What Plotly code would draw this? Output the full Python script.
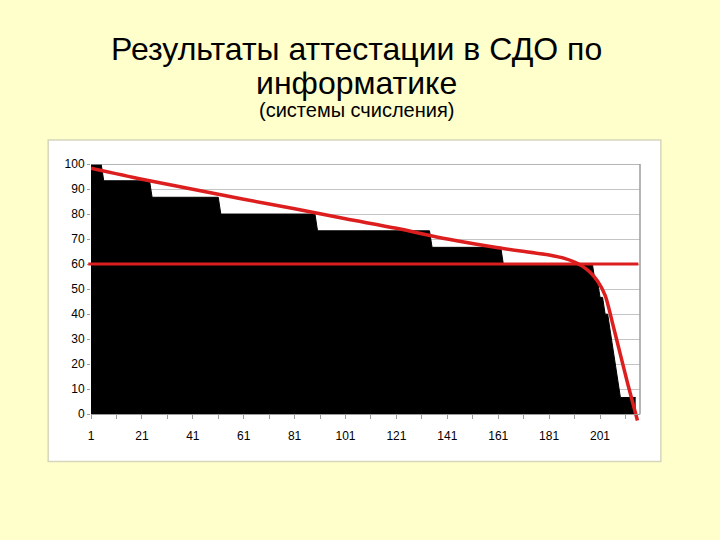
import plotly.graph_objects as go

# scores, as (level, how many students) runs, sorted high to low
score_levels = [100, 93.3, 86.7, 80, 73.3, 66.7, 60, 53.3, 46.7, 40, 33.3, 26.7, 20, 13.3, 6.7]
score_counts = [5, 19, 27, 38, 45, 28, 36, 2, 2, 2, 1, 1, 1, 1, 7]

# red trend curve
trend_x = [1, 21, 41, 61, 81, 101, 121, 141, 161, 181, 187, 191, 194, 197, 200, 203, 206, 209, 212, 215.7]
trend_y = [98.3, 93.9, 89.9, 85.9, 82.1, 78.1, 74.3, 70, 66.5, 63.6, 62.3, 60.8, 59.2, 56.8, 53.2, 47.5, 36, 23.8, 11.7, -2.5]

pass_mark = 60
x_tick_labels = [1, 21, 41, 61, 81, 101, 121, 141, 161, 181, 201]

scores = []
for lvl, n in zip(score_levels, score_counts):
    scores += [lvl] * n
students = list(range(1, len(scores) + 1))

RED = "#DC1E1E"
BG = "#FFFFCC"
FONT = "Liberation Sans, Arial, sans-serif"

fig = go.Figure()

fig.add_trace(go.Scatter(x=students, y=scores, mode="lines", fill="tozeroy",
                         fillcolor="black", line=dict(color="black", width=1),
                         hoverinfo="skip", showlegend=False))

fig.add_trace(go.Scatter(x=trend_x, y=trend_y, mode="lines",
                         line=dict(color=RED, width=3.5, shape="spline", smoothing=0.8),
                         hoverinfo="skip", showlegend=False))

# white chart frame behind the plot
fig.add_shape(type="rect", xref="paper", yref="paper", x0=-0.078, x1=1.038, y0=-0.149, y1=1.093,
              fillcolor="white", line=dict(color="#D6D6BC", width=1.5), layer="below")
# plot area border (top and right)
fig.add_shape(type="line", xref="paper", yref="y", x0=0, x1=1, y0=100, y1=100,
              line=dict(color="#9C9C9C", width=1.5))
fig.add_shape(type="line", xref="paper", yref="y", x0=1, x1=1, y0=0, y1=100,
              line=dict(color="#9C9C9C", width=1.5))
# pass mark line
fig.add_shape(type="line", xref="paper", yref="y", x0=-0.005, x1=0.997, y0=pass_mark, y1=pass_mark,
              line=dict(color=RED, width=3))

# titles (paper y = (423 - pixel) / 259)
fig.add_annotation(text="Результаты аттестации в СДО по", xref="paper", yref="paper",
                   x=0.4845, y=(423 - 49) / 259, xanchor="center", yanchor="middle", showarrow=False,
                   font=dict(size=32, color="black"))
fig.add_annotation(text="информатике", xref="paper", yref="paper",
                   x=0.4845, y=(423 - 83) / 259, xanchor="center", yanchor="middle", showarrow=False,
                   font=dict(size=32, color="black"))
fig.add_annotation(text="(системы счисления)", xref="paper", yref="paper",
                   x=0.4845, y=(423 - 110) / 259, xanchor="center", yanchor="middle", showarrow=False,
                   font=dict(size=20, color="black"))

fig.update_xaxes(range=[1, 216.7], tickvals=x_tick_labels, ticks="outside", ticklen=4,
                 tickcolor="#9C9C9C", showline=True, linecolor="#9C9C9C", showgrid=False,
                 zeroline=False, anchor="free", position=3.5 / 103.5, ticklabelstandoff=6,
                 minor=dict(ticks="outside", tick0=1, dtick=10, ticklen=4, tickcolor="#9C9C9C"),
                 tickfont=dict(size=12, color="black"))
fig.update_yaxes(range=[-3.5, 100], tick0=0, dtick=10, ticks="outside", ticklen=3,
                 tickcolor="#9C9C9C", showline=False, showgrid=True, gridcolor="#C4C4C4",
                 zeroline=False, tickfont=dict(size=12, color="black"))

fig.update_layout(width=720, height=540, margin=dict(l=91, r=80, t=164, b=117),
                  paper_bgcolor=BG, plot_bgcolor="white",
                  font=dict(family=FONT, color="black"), showlegend=False)

# drop the page's default body margin so the figure sits at the window's corner
fig.write_html("out.html", config={"displayModeBar": False},
               post_script="document.body.style.margin='0';document.body.style.background='%s';" % BG)
